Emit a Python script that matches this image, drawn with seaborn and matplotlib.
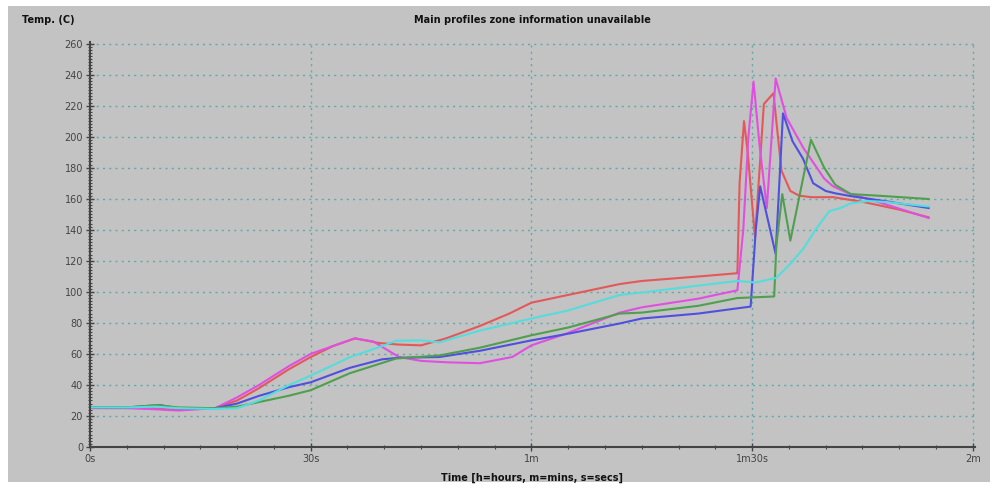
import numpy as np
import pandas as pd
import matplotlib
matplotlib.use("Agg")
import matplotlib.pyplot as plt
from matplotlib.patches import Rectangle
from matplotlib.ticker import MultipleLocator, FixedLocator
import seaborn as sns

# profile data, time in seconds, temperature in C
red_t = [0, 5, 8, 12, 17, 20, 23, 27, 30, 33, 36, 39.3, 42, 45, 48.4, 53, 57, 60, 65, 72, 75, 83, 88, 88.3, 88.9, 89.4, 90.4, 91.6, 92.9, 94.0, 95.2, 96.4, 98, 101, 105, 110, 114]
red_T = [25.5, 25.5, 25, 24, 25, 30, 38, 50, 58, 65, 70, 67, 66, 65.5, 70, 78, 86, 93, 98, 105, 107, 110, 112, 170, 210, 190, 135, 221, 228, 178, 165, 162, 161, 161, 158, 153, 148]

mag_t = [0, 5, 8, 12, 17, 20, 23, 27, 30, 33, 36, 38.5, 42, 45, 48.4, 53, 57.4, 60, 64.7, 72, 75, 82.7, 88, 88.8, 89.5, 90.2, 91, 92, 93.2, 94.7, 97, 99.8, 101, 103, 108, 114]
mag_T = [25, 25, 24.5, 23.5, 25, 32, 40, 52, 60, 65, 70, 68, 58, 55.5, 54.6, 54, 58, 65.5, 73, 86.6, 90, 95.6, 101, 140, 200, 235.5, 195, 154, 237.5, 212, 192.5, 173, 168, 163.7, 156.6, 147.6]

blue_t = [0, 5, 9.5, 12, 17, 20, 23, 27, 30, 35.3, 39.7, 42, 47.5, 53, 60, 65, 72, 75, 82.7, 89.8, 90.5, 91.1, 93.2, 94.2, 95.5, 96.9, 98.3, 100, 101.3, 103.4, 108, 114]
blue_T = [25.5, 25.5, 27, 25, 25, 28, 33, 38.5, 41.7, 51, 56.5, 57.5, 58, 62, 68.7, 73, 79.6, 82.8, 86, 90.5, 140, 168, 124.5, 215, 197, 186, 170, 165, 163.5, 161.7, 158.5, 154]

green_t = [0, 5, 9, 12, 17, 20, 23, 27, 30, 35.3, 41.6, 47.5, 53, 60, 65, 72, 75, 82.7, 88, 93, 93.3, 94.1, 95.2, 98, 99.8, 101.3, 103.4, 108, 114]
green_T = [25.5, 25.5, 27, 25.5, 25, 26, 29, 33, 36.6, 47.5, 57, 59, 64, 72, 77, 86, 86.6, 91, 96, 97, 130, 163, 133, 198, 180, 169, 163, 161.7, 159.8]

cyan_t = [0, 5, 9, 12, 17, 20, 23, 27, 30, 35.3, 39.7, 41.6, 45, 47.5, 53, 60, 65, 72, 75, 82.7, 88, 90.5, 93.3, 95.2, 97, 98.7, 100.5, 102, 103.4, 105.7, 108, 114]
cyan_T = [25.5, 25.5, 26, 25, 24.5, 25, 30, 39.8, 46, 57.8, 65, 68.5, 68.7, 67.4, 75, 82.8, 88, 98, 99.5, 104, 107, 106, 109, 118, 128, 140.5, 152, 154, 157, 158.5, 158, 155]

x_ticks = [0, 30, 60, 90, 120]
x_labels = ["0s", "30s", "1m", "1m30s", "2m"]

series = {
    "red": (red_t, red_T),
    "magenta": (mag_t, mag_T),
    "blue": (blue_t, blue_T),
    "green": (green_t, green_T),
    "cyan": (cyan_t, cyan_T),
}
palette = {"red": "#e4585a", "magenta": "#e050e0", "blue": "#5050e0",
           "green": "#4f9f4f", "cyan": "#55dcdc"}

rows = []
for name, (t, T) in series.items():
    for a, b in zip(t, T):
        rows.append({"time": a, "temp": b, "probe": name})
df = pd.DataFrame(rows)

bg = "#c3c3c3"
fig = plt.figure(figsize=(9.97, 4.88), dpi=100)
fig.patch.set_facecolor("white")
fig.patches.append(Rectangle((8 / 997, 6 / 488), 982 / 997, 476 / 488,
                             transform=fig.transFigure, facecolor=bg,
                             edgecolor="none", zorder=-1))

ax = fig.add_axes([90 / 997, 1 - 447 / 488, 885 / 997, 405 / 488])
ax.set_facecolor(bg)

sns.lineplot(data=df, x="time", y="temp", hue="probe", palette=palette,
             sort=False, estimator=None, linewidth=1.5, legend=False, ax=ax)

ax.set_xlim(0, 120.3)
ax.set_ylim(0, 261)

ax.xaxis.set_major_locator(FixedLocator(x_ticks))
ax.set_xticklabels(x_labels)
ax.xaxis.set_minor_locator(MultipleLocator(5))
ax.yaxis.set_major_locator(MultipleLocator(20))
ax.yaxis.set_minor_locator(MultipleLocator(2))

# dotted teal grid, including the outer 260 / 2m lines
grid_col = "#5fa9a9"
for y in range(20, 261, 20):
    ax.axhline(y, color=grid_col, lw=1.0, ls=(0, (1.5, 3)), zorder=0)
for x in x_ticks[1:]:
    ax.axvline(x, color=grid_col, lw=1.0, ls=(0, (1.5, 3)), zorder=0)

for s in ["top", "right"]:
    ax.spines[s].set_visible(False)
for s in ["left", "bottom"]:
    ax.spines[s].set_color("#444444")
    ax.spines[s].set_linewidth(1.5)

ax.tick_params(axis="both", which="major", direction="inout", length=6,
               width=1, color="#444444", labelsize=7, labelcolor="#444444", pad=2)
ax.tick_params(axis="both", which="minor", direction="inout", length=3,
               width=0.8, color="#444444")
ax.set_xlabel("")
ax.set_ylabel("")

fig.text(22 / 997, 1 - 20 / 488, "Temp. (C)", fontsize=7, fontweight="bold",
         ha="left", va="center", color="#111111")
fig.text(532 / 997, 1 - 20 / 488, "Main profiles zone information unavailable",
         fontsize=7, fontweight="bold", ha="center", va="center", color="#111111")
fig.text(532 / 997, 1 - 478 / 488, "Time [h=hours, m=mins, s=secs]",
         fontsize=7, fontweight="bold", ha="center", va="center", color="#111111")

fig.savefig("out.png", dpi=100, facecolor=fig.get_facecolor())
